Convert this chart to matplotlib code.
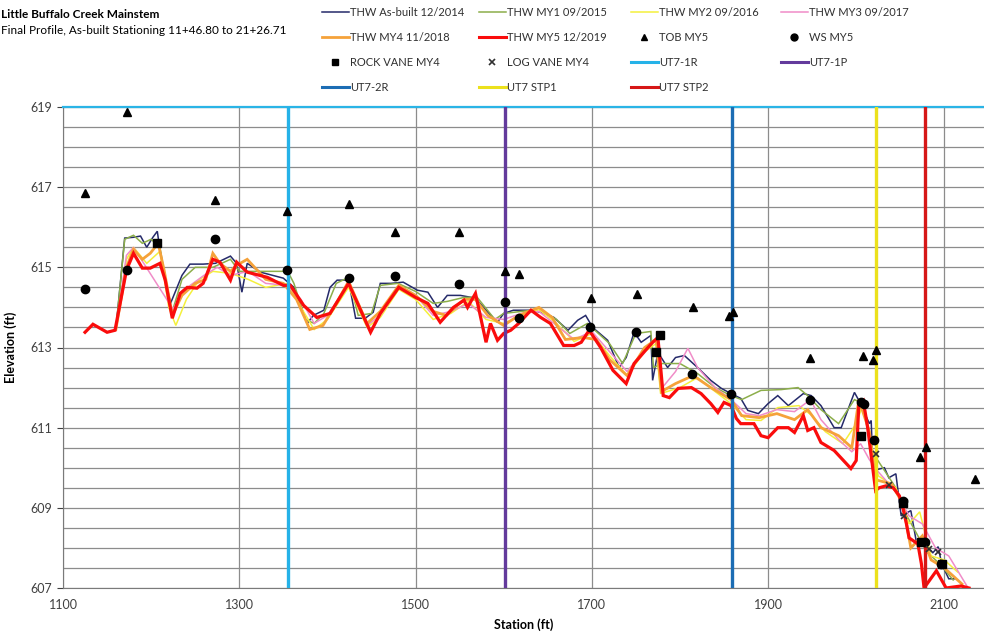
import matplotlib
matplotlib.use("Agg")
import matplotlib.pyplot as plt
from matplotlib.lines import Line2D
from matplotlib.ticker import MultipleLocator

plt.rcParams['font.family'] = ['Lato', 'DejaVu Sans']

# ---------------- survey data (station ft, elevation ft) ----------------
st_asbuilt = [1160, 1170, 1180, 1188, 1195, 1202, 1207, 1210, 1218, 1222, 1235, 1244, 1259, 1273,
              1290, 1297, 1303, 1309, 1324, 1350, 1362, 1377, 1384, 1396, 1403, 1411, 1424, 1432,
              1443, 1452, 1460, 1472, 1486, 1502, 1514, 1525, 1536, 1551, 1568, 1580, 1593, 1600,
              1611, 1631, 1642, 1657, 1673, 1684, 1693, 1701, 1718, 1731, 1739, 1748, 1756, 1767,
              1769, 1775, 1786, 1795, 1805, 1820, 1835, 1847, 1858, 1869, 1877, 1889, 1900, 1911,
              1923, 1940, 1949, 1960, 1975, 1983, 1998, 2003, 2015, 2017, 2019, 2032, 2037, 2045,
              2051, 2062, 2068, 2082, 2087, 2093, 2097, 2105, 2112]
el_asbuilt = [613.45, 615.73, 615.75, 615.78, 615.5, 615.75, 615.9, 615.43, 614.5, 614.1, 614.8,
              615.08, 615.08, 615.1, 615.28, 615.1, 614.38, 615.1, 614.88, 614.73, 614.5, 613.6,
              613.8, 613.93, 614.5, 614.68, 614.68, 613.73, 613.73, 613.88, 614.6, 614.6, 614.63,
              614.43, 614.38, 614.0, 614.3, 614.3, 614.23, 613.93, 613.63, 613.85, 613.93, 613.93,
              613.88, 613.75, 613.43, 613.68, 613.8, 613.5, 613.18, 612.5, 612.75, 613.38, 613.13,
              613.3, 612.18, 612.88, 612.5, 612.75, 612.8, 612.5, 612.18, 611.98, 611.85, 611.73,
              611.43, 611.35, 611.6, 611.8, 611.55, 611.85, 611.8, 611.55, 611.0, 611.0, 611.88,
              611.68, 611.1, 611.18, 609.93, 610.0, 609.75, 609.85, 608.8, 608.93, 608.18, 608.0,
              607.88, 608.03, 607.6, 607.23, 607.23]

st_my1 = [1160, 1170, 1180, 1190, 1200, 1210, 1220, 1224, 1235, 1250, 1270, 1290, 1300, 1320, 1355,
          1362, 1375, 1385, 1396, 1410, 1424, 1435, 1450, 1460, 1480, 1500, 1520, 1536, 1555, 1570,
          1590, 1600, 1620, 1640, 1660, 1675, 1695, 1720, 1735, 1750, 1767, 1770, 1780, 1800, 1820,
          1840, 1858, 1870, 1892, 1915, 1934, 1945, 1960, 1980, 1998, 2008, 2018, 2030, 2045, 2055,
          2065, 2080, 2095, 2110]
el_my1 = [613.45, 615.7, 615.8, 615.6, 615.7, 615.5, 614.2, 613.9, 614.7, 615.0, 615.0, 615.2,
          614.9, 614.9, 614.9, 614.6, 613.7, 613.6, 613.85, 614.6, 614.75, 613.8, 613.85, 614.55,
          614.6, 614.4, 614.1, 614.15, 614.25, 614.25, 613.7, 613.85, 613.9, 613.95, 613.7, 613.35,
          613.6, 613.1, 612.6, 613.35, 613.4, 612.5, 612.6, 612.6, 612.35, 612.0, 611.8, 611.7,
          611.93, 611.95, 612.0, 611.8, 611.45, 611.1, 611.7, 611.6, 610.4, 610.0, 609.5, 608.9,
          608.5, 607.9, 607.6, 607.2]

st_my2 = [1160, 1172, 1180, 1195, 1210, 1220, 1228, 1240, 1255, 1270, 1290, 1310, 1330, 1355, 1370,
          1385, 1400, 1424, 1445, 1460, 1481, 1500, 1520, 1540, 1560, 1580, 1600, 1620, 1640, 1660,
          1680, 1700, 1720, 1740, 1760, 1773, 1778, 1800, 1820, 1840, 1858, 1875, 1892, 1911, 1935,
          1950, 1965, 1985, 2000, 2008, 2015, 2025, 2045, 2060, 2072, 2085, 2100, 2115]
el_my2 = [613.45, 615.2, 615.5, 615.1, 615.4, 614.0, 613.55, 614.2, 614.7, 614.9, 614.85, 614.7,
          614.5, 614.6, 614.0, 613.45, 613.7, 614.5, 613.5, 613.75, 614.45, 614.2, 613.7, 613.85,
          614.15, 613.7, 613.6, 613.8, 613.95, 613.6, 613.15, 613.35, 612.8, 612.3, 612.9, 613.1,
          611.85, 612.0, 612.25, 611.9, 611.6, 611.2, 611.18, 611.5, 611.55, 611.3, 610.9, 610.6,
          611.1, 611.6, 610.8, 609.8, 609.5, 608.6, 608.9, 607.8, 607.7, 607.4]

st_my3 = [1160, 1172, 1180, 1225, 1235, 1260, 1275, 1290, 1310, 1330, 1355, 1370, 1385, 1400, 1424,
          1445, 1460, 1481, 1500, 1520, 1540, 1560, 1580, 1600, 1620, 1640, 1660, 1680, 1700, 1720,
          1740, 1760, 1775, 1780, 1795, 1809, 1820, 1840, 1858, 1875, 1890, 1910, 1930, 1948, 1960,
          1980, 1995, 2005, 2015, 2025, 2045, 2060, 2075, 2090, 2105, 2127]
el_my3 = [613.45, 615.3, 615.5, 613.95, 614.4, 614.8, 615.0, 614.8, 614.9, 614.6, 614.55, 614.2,
          613.6, 613.8, 614.6, 613.55, 613.8, 614.5, 614.3, 613.8, 613.9, 614.1, 613.75, 613.7,
          613.85, 613.9, 613.55, 613.2, 613.4, 612.9, 612.4, 612.95, 613.2, 612.0, 612.4, 612.98,
          612.5, 612.0, 611.7, 611.35, 611.3, 611.45, 611.4, 611.7, 611.2, 610.7, 610.4, 610.6,
          610.2, 609.9, 609.4, 608.8, 608.6, 608.0, 607.8, 607.0]

st_my4 = [1160, 1172, 1180, 1190, 1199, 1208, 1215, 1224, 1235, 1250, 1262, 1270, 1278, 1290, 1297,
          1309, 1330, 1350, 1365, 1380, 1395, 1410, 1424, 1445, 1460, 1481, 1500, 1520, 1535, 1555,
          1568, 1582, 1600, 1617, 1640, 1655, 1670, 1690, 1705, 1720, 1740, 1760, 1773, 1779, 1795,
          1815, 1835, 1858, 1870, 1890, 1910, 1930, 1945, 1960, 1980, 1995, 2003, 2015, 2022, 2040,
          2053, 2062, 2075, 2085, 2100, 2110, 2120]
el_my4 = [613.45, 615.0, 615.45, 615.2, 615.35, 615.6, 614.9, 613.8, 614.3, 614.6, 614.7, 615.35,
          615.1, 614.9, 615.05, 615.2, 614.7, 614.6, 614.2, 613.45, 613.55, 614.1, 614.65, 613.6,
          613.9, 614.55, 614.3, 613.9, 613.8, 614.2, 614.2, 613.8, 613.55, 613.8, 614.0, 613.75,
          613.2, 613.25, 613.2, 612.7, 612.3, 613.0, 613.2, 611.9, 612.1, 612.3, 612.0, 611.7,
          611.3, 611.25, 611.35, 611.2, 611.45, 611.0, 610.8, 610.5, 611.7, 610.9, 609.7, 609.6,
          609.1, 608.0, 608.3, 607.7, 607.5, 607.3, 607.1]

st_my5 = [1125, 1134, 1150, 1159, 1172, 1180, 1190, 1199, 1210, 1216, 1224, 1233, 1241, 1252, 1259,
          1270, 1278, 1290, 1297, 1309, 1332, 1350, 1358, 1373, 1388, 1403, 1424, 1449, 1460, 1481,
          1500, 1514, 1528, 1543, 1555, 1559, 1568, 1580, 1585, 1593, 1600, 1608, 1617, 1631, 1642,
          1653, 1668, 1680, 1688, 1697, 1710, 1724, 1739, 1748, 1761, 1769, 1775, 1781, 1788, 1798,
          1813, 1824, 1835, 1843, 1850, 1858, 1864, 1869, 1884, 1892, 1900, 1911, 1923, 1930, 1940,
          1945, 1952, 1960, 1975, 1994, 2000, 2003, 2008, 2013, 2022, 2026, 2034, 2042, 2049, 2053,
          2057, 2060, 2070, 2074, 2077, 2091, 2102, 2119, 2128]
el_my5 = [613.38, 613.58, 613.38, 613.43, 614.93, 615.35, 614.98, 614.98, 615.1, 614.68, 613.73,
          614.35, 614.5, 614.48, 614.6, 615.2, 615.13, 614.68, 615.13, 614.88, 614.75, 614.55,
          614.55, 614.05, 613.75, 613.85, 614.6, 613.38, 613.85, 614.5, 614.25, 614.1, 613.63,
          614.0, 614.18, 614.0, 614.35, 613.13, 613.6, 613.18, 613.35, 613.43, 613.6, 613.93,
          613.75, 613.6, 613.05, 613.05, 613.13, 613.43, 613.0, 612.43, 612.1, 612.6, 612.93,
          613.13, 613.25, 611.8, 611.75, 611.98, 612.0, 611.85, 611.6, 611.38, 611.63, 611.55,
          611.23, 611.1, 611.1, 610.8, 610.75, 611.0, 611.0, 610.88, 611.3, 610.93, 611.0, 610.63,
          610.43, 609.98, 610.18, 611.6, 611.68, 611.0, 609.43, 609.5, 609.55, 609.5, 609.3, 609.0,
          608.6, 608.25, 608.1, 607.6, 607.0, 607.43, 607.0, 607.05, 607.0]

# top of bank, water surface and structure points
st_tob = [1125, 1173, 1272, 1354, 1424, 1477, 1549, 1601, 1617, 1699, 1751, 1815, 1856, 1860,
          1948, 2008, 2019, 2022, 2072, 2079, 2135]
el_tob = [616.85, 618.88, 616.68, 616.4, 616.58, 615.88, 615.88, 614.9, 614.83, 614.23, 614.33,
          614.0, 613.78, 613.88, 612.73, 612.8, 612.7, 612.95, 610.26, 610.53, 609.71]

st_ws = [1125, 1173, 1272, 1354, 1425, 1477, 1549, 1601, 1617, 1698, 1750, 1814, 1858, 1948,
         2006, 2009, 2020, 2053, 2078, 2096]
el_ws = [614.45, 614.93, 615.7, 614.93, 614.73, 614.78, 614.58, 614.13, 613.73, 613.5, 613.38,
         612.35, 611.85, 611.7, 611.65, 611.6, 610.7, 609.18, 608.15, 607.6]

st_rock = [1207, 1777, 1773, 2006, 2053, 2074, 2097]
el_rock = [615.6, 613.3, 612.88, 610.78, 609.13, 608.15, 607.6]

st_log = [2022, 2037, 2054, 2083, 2093]
el_log = [610.35, 609.57, 608.8, 607.98, 607.9]

# structure stations
ut_names = ["UT7-1R", "UT7-1P", "UT7-2R", "UT7 STP1", "UT7 STP2"]
ut_stations = [1355, 1602, 1859, 2022, 2078]

x_ticks = [1100, 1300, 1500, 1700, 1900, 2100]
y_ticks = [607, 609, 611, 613, 615, 617, 619]

# ---------------- figure ----------------
fig = plt.figure(figsize=(9.84, 6.37), dpi=100)
ax = fig.add_axes([63 / 984, 49 / 637, 1 - 63 / 984, 481 / 637])
ax.set_xlim(1100, 2145)
ax.set_ylim(607, 619)

ax.set_xticks(x_ticks)
ax.set_yticks(y_ticks)
ax.yaxis.set_minor_locator(MultipleLocator(0.5))
ax.tick_params(axis='both', which='major', labelsize=9, colors='#404040', length=4, width=0.8)
ax.tick_params(axis='y', which='minor', length=0)
ax.tick_params(axis='x', which='major', length=0, pad=8)
ax.grid(True, which='both', axis='y', color='#8c8c8c', lw=0.9, zorder=0)
ax.grid(True, which='major', axis='x', color='#8c8c8c', lw=0.9, zorder=0)
ax.set_axisbelow(True)
ax.spines['right'].set_visible(False)
ax.spines['left'].set_color('#7a7a7a')
ax.spines['bottom'].set_color('#7a7a7a')
ax.spines['top'].set_color('#2ab4e6')
ax.spines['top'].set_linewidth(1.6)

# THW profiles
series = [
    (st_asbuilt, el_asbuilt, "THW As-built 12/2014", '#252a6a', 1.1),
    (st_my1, el_my1, "THW MY1 09/2015", '#8cae4a', 1.1),
    (st_my2, el_my2, "THW MY2 09/2016", '#f4f03c', 1.1),
    (st_my3, el_my3, "THW MY3 09/2017", '#f08cc8', 1.1),
    (st_my4, el_my4, "THW MY4 11/2018", '#f5a23a', 2.0),
    (st_my5, el_my5, "THW MY5 12/2019", '#fa0c0c', 2.3),
]
h = {}
for st, el, lab, col, lw in series:
    h[lab], = ax.plot(st, el, color=col, lw=lw, label=lab, zorder=3, solid_joinstyle='miter')

# structure lines
ut_colors = ['#25b2e8', '#633a9c', '#1c6db4', '#ece11c', '#d61717']
for name, x, col in zip(ut_names, ut_stations, ut_colors):
    h[name] = ax.axvline(x, color=col, lw=2.4, zorder=4)

# points
h["TOB MY5"], = ax.plot(st_tob, el_tob, ls='none', marker='^', ms=6, color='black', zorder=5)
h["WS MY5"], = ax.plot(st_ws, el_ws, ls='none', marker='o', ms=6, color='black', zorder=5)
h["ROCK VANE MY4"], = ax.plot(st_rock, el_rock, ls='none', marker='s', ms=6, color='black', zorder=5)
h["LOG VANE MY4"], = ax.plot(st_log, el_log, ls='none', marker='x', ms=5, mew=1.2, color='#303030', zorder=5)

ax.set_xlabel("Station (ft)", fontsize=9, fontweight='bold', labelpad=5)
ax.set_ylabel("Elevation (ft)", fontsize=9, fontweight='bold', labelpad=10)

fig.text(1 / 984, 1 - 15 / 637, "Little Buffalo Creek Mainstem", fontsize=8.5, fontweight='bold',
         va='center', ha='left')
fig.text(1 / 984, 1 - 30 / 637, "Final Profile, As-built Stationing 11+46.80 to 21+26.71",
         fontsize=8.5, va='center', ha='left')

# legend laid out in four fixed-width columns
columns = [
    ["THW As-built 12/2014", "THW MY4 11/2018", "ROCK VANE MY4", "UT7-2R"],
    ["THW MY1 09/2015", "THW MY5 12/2019", "LOG VANE MY4", "UT7 STP1"],
    ["THW MY2 09/2016", "TOB MY5", "UT7-1R", "UT7 STP2"],
    ["THW MY3 09/2017", "WS MY5", "UT7-1P"],
]
col_x = [322, 479, 631, 781]
for labels, xp in zip(columns, col_x):
    handles = []
    for lab in labels:
        src = h[lab]
        if src.get_linestyle() == 'None':
            handles.append(Line2D([], [], ls='none', marker=src.get_marker(), ms=5,
                                  color=src.get_color(), mew=src.get_markeredgewidth()))
        else:
            handles.append(Line2D([], [], color=src.get_color(),
                                  lw=min(src.get_linewidth(), 2.2)))
    fig.legend(handles, labels, loc='upper left', bbox_to_anchor=(xp / 984, 1 - 7 / 637),
               frameon=False, fontsize=8, handlelength=2.4, handletextpad=0.1,
               labelspacing=1.27, borderpad=0, borderaxespad=0, labelcolor='#303030')

fig.savefig("out.png", dpi=100)
